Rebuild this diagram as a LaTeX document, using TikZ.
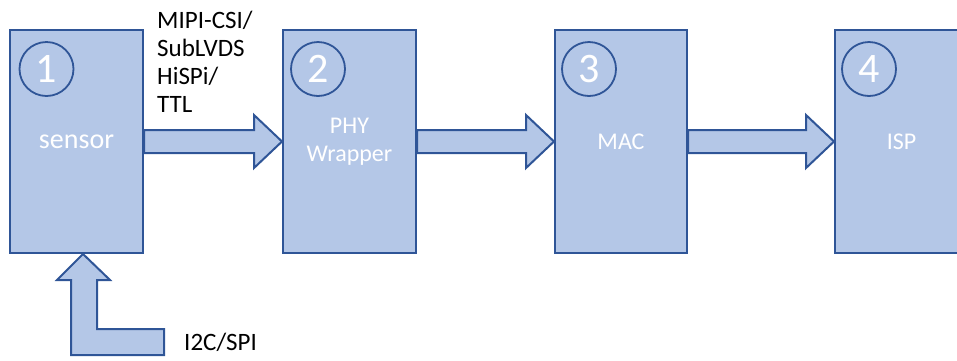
\documentclass[tikz,border=0pt]{standalone}
\usepackage{fontspec}
\setmainfont{Carlito}
\usetikzlibrary{calc}

\definecolor{boxfill}{HTML}{B4C7E7}
\definecolor{boxline}{HTML}{2F5597}

\tikzset{
	unit/.style={draw=boxline,fill=boxfill,line width=2pt,minimum width=133pt,minimum height=223pt,text=white,align=center,font=\fontsize{24}{28}\selectfont},
	num/.style={draw=boxline,circle,line width=1.8pt,minimum size=54pt,inner sep=0pt,text=white,font=\fontsize{42}{42}\selectfont},
	fatarrow/.style={draw=boxline,fill=boxfill,line width=2pt,line join=miter},
	lbl/.style={text=black,align=left,inner sep=0pt,font=\fontsize{25}{28}\selectfont}
}

\newcommand{\blockarrow}[2]{%
	\draw[fatarrow] ($(#1.east)+(0,-11.5)$) -- ($(#2.west)+(-28,-11.5)$) -- ($(#2.west)+(-28,-26.5)$) -- (#2.west) -- ($(#2.west)+(-28,26.5)$) -- ($(#2.west)+(-28,11.5)$) -- ($(#1.east)+(0,11.5)$) -- cycle;}

\begin{document}
\begin{tikzpicture}[x=1pt,y=-1pt]
		\useasboundingbox (0,0) rectangle (957,360);
		\node[unit,font=\fontsize{28}{32}\selectfont] (sensor) at (76.5,141.5) {sensor};
		\node[unit] (phy) at (349.5,141.5) {PHY\\Wrapper};
		\node[unit,minimum width=132pt] (mac) at (621,141.5) {MAC};
		\node[unit] (isp) at (901.5,141.5) {ISP};
		\node[num] (n1) at ($(sensor.north west)+(37.5,40)$) {1};
		\node[num] (n2) at ($(phy.north west)+(36,40)$) {2};
		\node[num] (n3) at ($(mac.north west)+(35,40)$) {3};
		\node[num] (n4) at ($(isp.north west)+(35,40)$) {4};
		\blockarrow{sensor}{phy}
		\blockarrow{phy}{mac}
		\blockarrow{mac}{isp}
		\node[lbl,anchor=west] (csi) at (157,62) {MIPI-CSI/\\SubLVDS\\HiSPi/\\TTL};
		\node[lbl,anchor=west] (ctrl) at (184,342) {I2C/SPI};
		\coordinate (tip) at ($(sensor.south)+(6.5,0)$);
		\draw[fatarrow] (tip) -- ++(27,26) -- ++(-13,0) |- ($(ctrl.west)+(-20,-13)$) -- ($(ctrl.west)+(-20,13)$) -| ($(tip)+(-12,26)$) -- ++(-14,0) -- cycle;
	\end{tikzpicture}
\end{document}
